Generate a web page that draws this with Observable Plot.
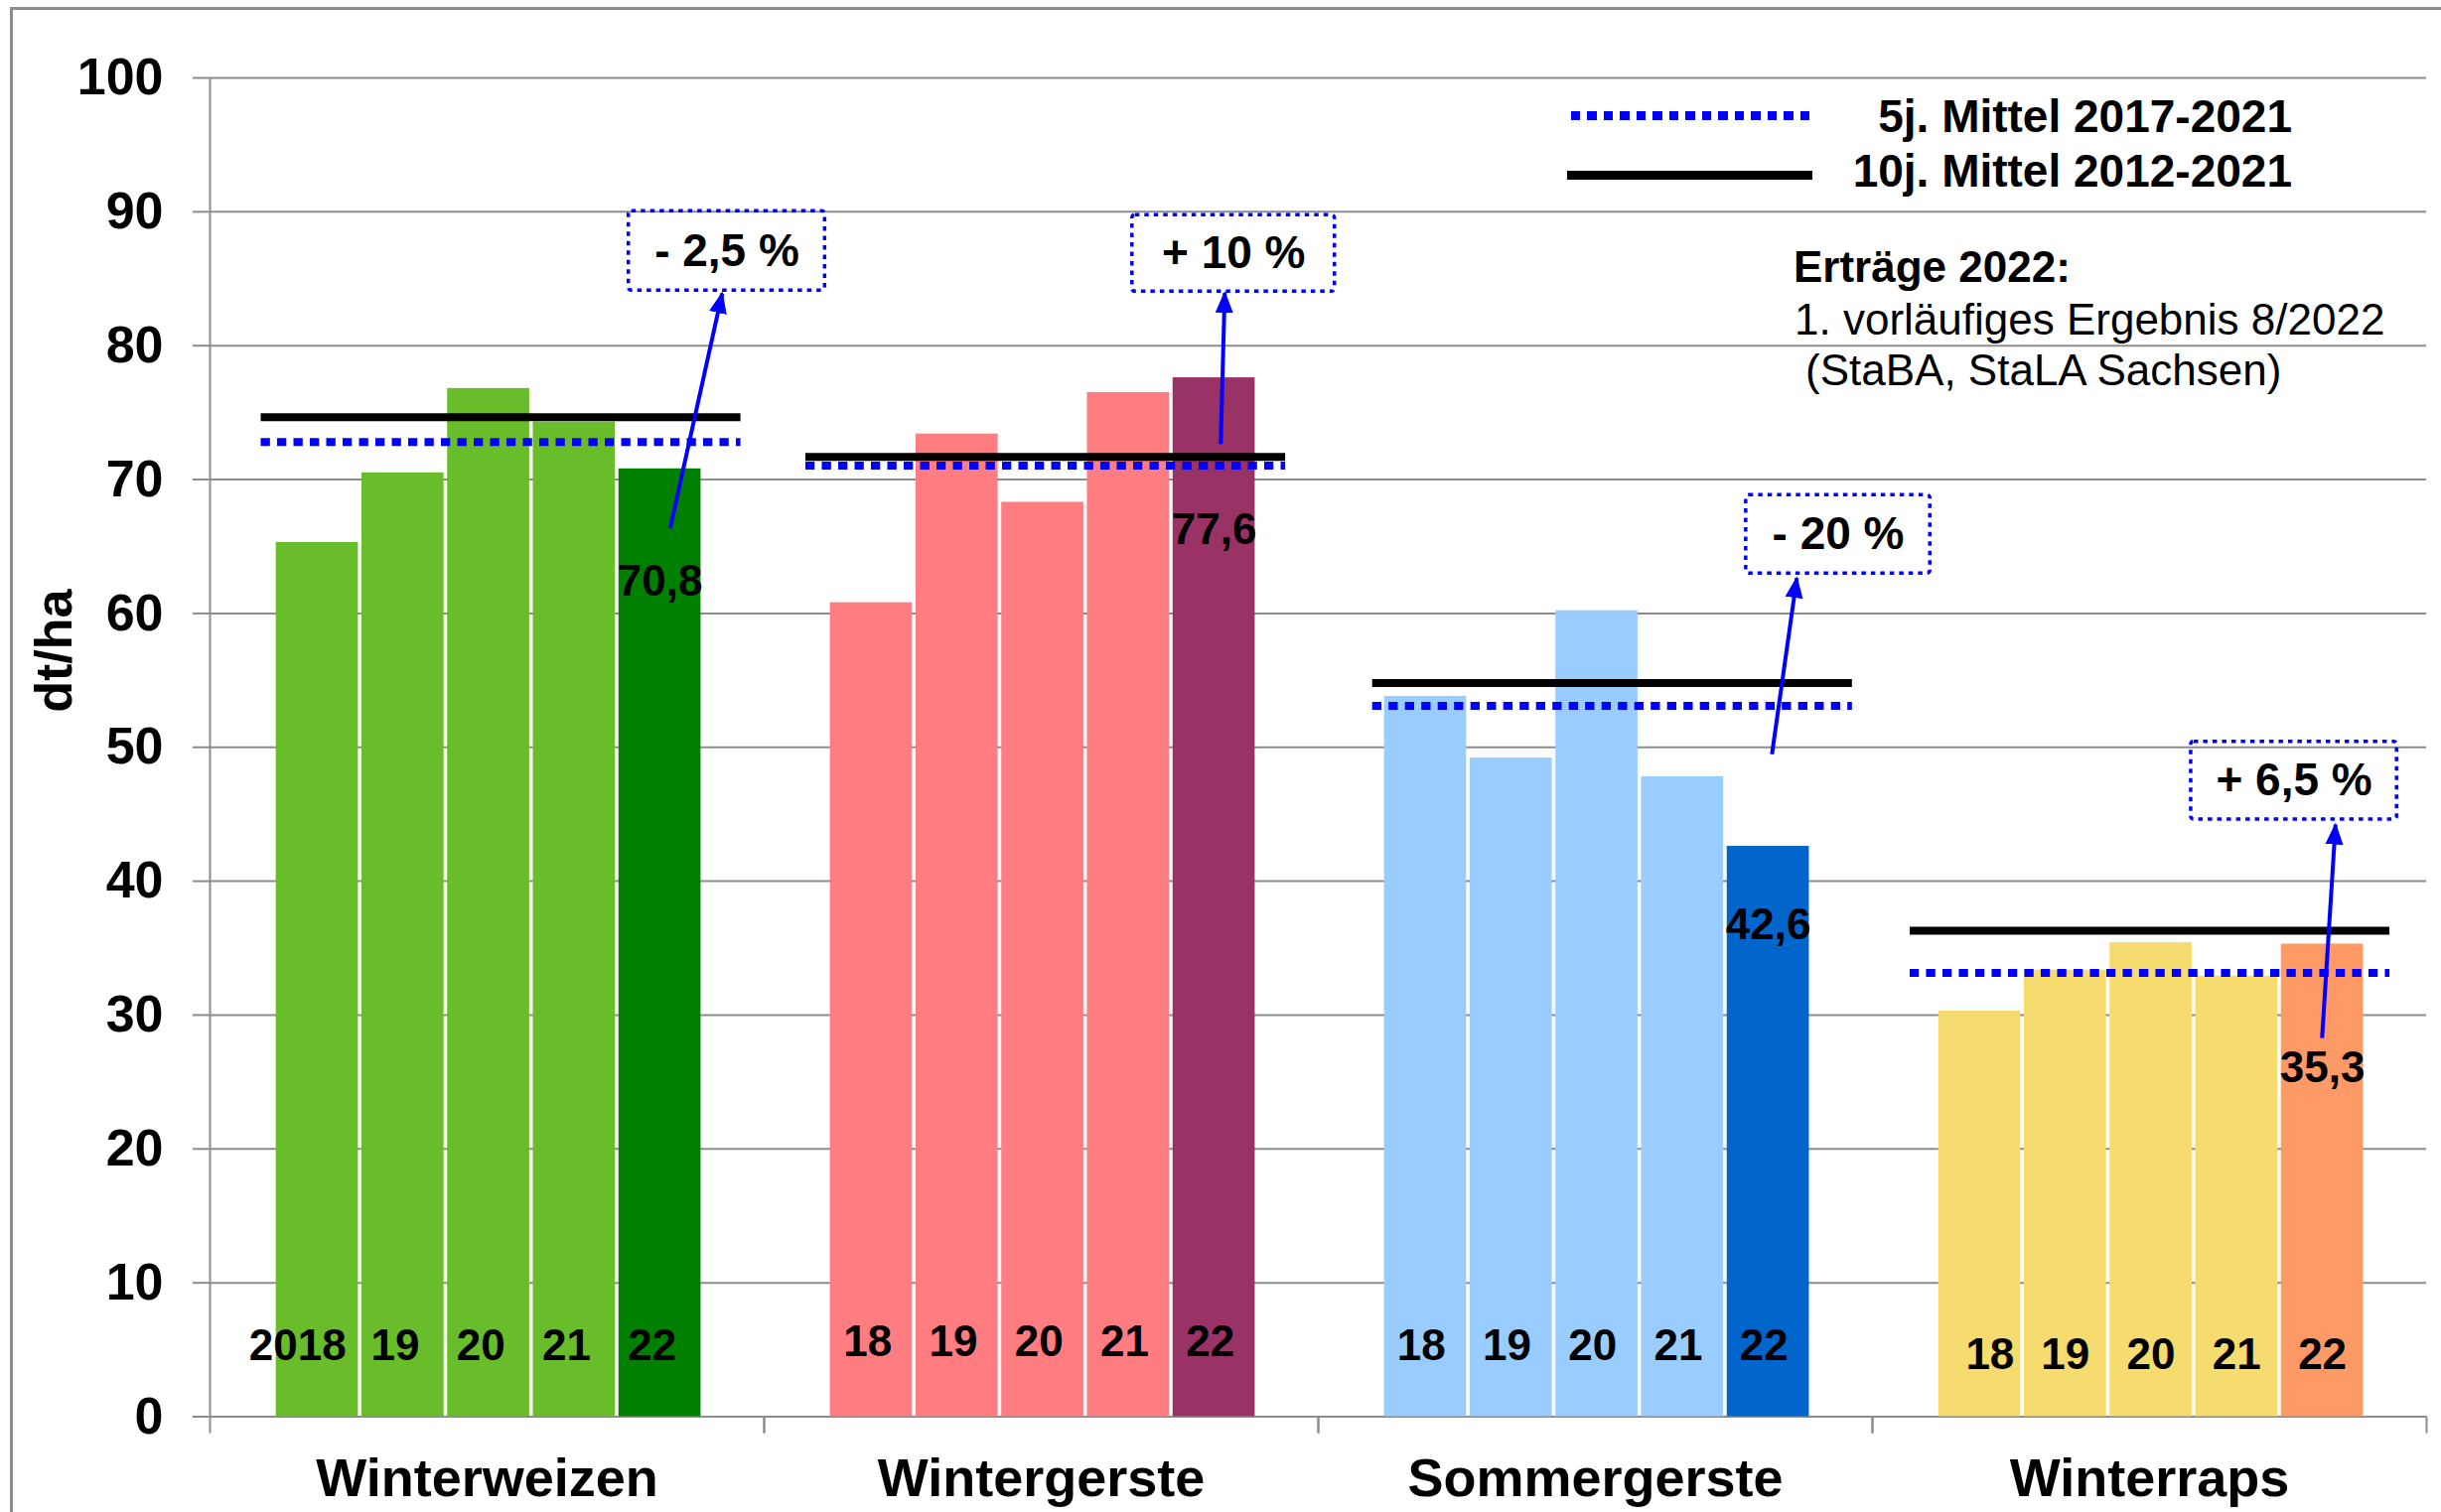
<!DOCTYPE html>
<html>
<head>
<meta charset="utf-8">
<script src="https://cdn.jsdelivr.net/npm/d3@7"></script>
<script src="https://cdn.jsdelivr.net/npm/@observablehq/plot@0.6"></script>
<style>
  html, body { margin: 0; padding: 0; background: #fff; }
  #wrap { position: relative; width: 2458px; height: 1523px; overflow: hidden; background: #fff;
          font-family: "Liberation Sans", Arial, sans-serif; color: #000; }
  #frame { position: absolute; left: 10px; top: 7px; width: 2600px; height: 1700px;
           border-left: 3px solid #8c8c8c; border-top: 3px solid #8c8c8c; pointer-events: none; }
  .ov { position: absolute; white-space: nowrap; }
</style>
</head>
<body>
<div id="wrap">
  <div id="chart"></div>
  <div id="frame"></div>
  <div id="legend"></div>
</div>
<script>
// ---------------- data ----------------
const categories = ["Winterweizen", "Wintergerste", "Sommergerste", "Winterraps"];
const years = [2018, 2019, 2020, 2021, 2022];
const winterweizen = [65.3, 70.5, 76.8, 74.3, 70.8];
const wintergerste = [60.8, 73.4, 68.3, 76.5, 77.6];
const sommergerste = [53.8, 49.2, 60.2, 47.8, 42.6];
const winterraps   = [30.3, 33.35, 35.4, 32.9, 35.3];
const mittel5  = [72.8, 71.05, 53.1, 33.15];   // 5j. Mittel 2017-2021
const mittel10 = [74.65, 71.7, 54.8, 36.3];    // 10j. Mittel 2012-2021
const changeLabels = ["- 2,5 %", "+ 10 %", "- 20 %", "+ 6,5 %"];
const legendLabels = ["5j. Mittel 2017-2021", "10j. Mittel 2012-2021"];
const noteLines = ["Erträge 2022:", "1. vorläufiges Ergebnis 8/2022", "(StaBA, StaLA Sachsen)"];
const yTicks = [0, 10, 20, 30, 40, 50, 60, 70, 80, 90, 100];

// ---------------- styles ----------------
const colorsPast = ["#6abd2a", "#ff7c80", "#99ccff", "#f6db6e"];
const colors2022 = ["#008000", "#993366", "#0066cc", "#ff9966"];
const GRID = "#8c8c8c";
const BLUE = "#0000ff";
const FONT = "'Liberation Sans', Arial, sans-serif";

// ---------------- annotation layout (data units inside each category) ----------------
const X_DOMAIN = [-0.752, 5.716];
const meanLineStart = [-0.155, -0.265, -0.118, -0.312];
const MEAN_LINE_LEN = 5.6;
const yearLabelY = [5.3, 5.54, 5.3, 4.58];
const yearLabelShift = [
  [-0.23, -0.09, -0.09, -0.09, -0.09],
  [-0.045, -0.045, -0.045, -0.045, -0.045],
  [-0.05, -0.05, -0.05, -0.05, -0.05],
  [0.12, 0, 0, 0, 0]
];
const valueLabelY = [62.4, 66.2, 36.75, 26.0];
const calloutBox = [
  {x1: 4.136, x2: 6.427, y1: 84.11, y2: 90.04},
  {x1: 3.546, x2: 5.910, y1: 84.03, y2: 89.74},
  {x1: 4.242, x2: 6.391, y1: 62.97, y2: 68.83},
  {x1: 2.968, x2: 5.371, y1: 44.60, y2: 50.41}
];
const calloutArrow = [
  {x1: 4.618, y1: 66.35, x2: 5.226, y2: 83.91},
  {x1: 4.577, y1: 72.65, x2: 4.624, y2: 83.94},
  {x1: 4.543, y1: 49.48, x2: 4.833, y2: 62.65},
  {x1: 4.496, y1: 28.29, x2: 4.653, y2: 44.23}
];

// ---------------- tables built from arrays ----------------
const series = [winterweizen, wintergerste, sommergerste, winterraps];
const bars = [];
categories.forEach((cat, ci) => {
  years.forEach((year, yi) => {
    bars.push({
      cat, ci, year, yi,
      value: series[ci][yi],
      color: yi === years.length - 1 ? colors2022[ci] : colorsPast[ci],
      label: (ci === 0 && yi === 0) ? String(year) : String(year).slice(2)
    });
  });
});
const latest = bars.filter(d => d.yi === years.length - 1);
const means = categories.map((cat, ci) => ({cat, ci, m5: mittel5[ci], m10: mittel10[ci]}));
const callouts = categories.map((cat, ci) => ({cat, ci, label: changeLabels[ci], ...calloutBox[ci]}));
const arrows = categories.map((cat, ci) => ({cat, ci, ...calloutArrow[ci]}));

function triangleMarker(color) {
  const ns = "http://www.w3.org/2000/svg";
  const m = document.createElementNS(ns, "marker");
  m.setAttribute("viewBox", "-11 -10 22 20");
  m.setAttribute("markerUnits", "userSpaceOnUse");
  m.setAttribute("markerWidth", "22");
  m.setAttribute("markerHeight", "20");
  m.setAttribute("refX", "9");
  m.setAttribute("refY", "0");
  m.setAttribute("orient", "auto");
  const p = document.createElementNS(ns, "path");
  p.setAttribute("d", "M-11,-9L11,0L-11,9Z");
  p.setAttribute("fill", color);
  p.setAttribute("stroke", "none");
  m.appendChild(p);
  return m;
}

const chart = Plot.plot({
  width: 2458,
  height: 1523,
  marginLeft: 210,
  marginRight: 15,
  marginTop: 78,
  marginBottom: 96.5,
  style: {fontFamily: FONT, fontSize: "44px", color: "#000", background: "#fff", overflow: "visible"},
  fx: {domain: categories, padding: 0, label: null},
  x: {domain: X_DOMAIN, label: null},
  y: {domain: [0, 100], label: null},
  color: {type: "identity"},
  marks: [
    Plot.gridY(yTicks, {stroke: GRID, strokeOpacity: 1, strokeWidth: 2}),
    Plot.rectY(bars, {fx: "cat", x: "yi", interval: 1, y1: 0, y2: "value", fill: "color", insetLeft: 1.8, insetRight: 1.8}),
    Plot.ruleX([{cat: categories[0]}], {fx: "cat", x: X_DOMAIN[0], stroke: GRID, strokeWidth: 2}),
    Plot.axisX({ticks: X_DOMAIN, tickSize: 17, tickFormat: () => "", stroke: GRID, strokeWidth: 2, strokeOpacity: 1, label: null}),
    Plot.axisY({ticks: yTicks, tickSize: 17, tickPadding: 30, fontSize: 52, fontWeight: "bold", stroke: GRID, strokeWidth: 2, strokeOpacity: 1, fill: "#000", label: null}),
    Plot.axisFx({anchor: "bottom", tickSize: 0, tickPadding: 42, fontSize: 54, fontWeight: "bold", fill: "#000", label: null}),
    Plot.text(bars, {fx: "cat", x: d => d.yi + 0.5 + yearLabelShift[d.ci][d.yi], y: d => yearLabelY[d.ci], text: "label", fontSize: 44, fontWeight: "bold", fill: "#000"}),
    Plot.ruleY(means, {fx: "cat", y: "m10", x1: d => meanLineStart[d.ci], x2: d => meanLineStart[d.ci] + MEAN_LINE_LEN, stroke: "#000", strokeWidth: 8}),
    Plot.ruleY(means, {fx: "cat", y: "m5", x1: d => meanLineStart[d.ci], x2: d => meanLineStart[d.ci] + MEAN_LINE_LEN, stroke: BLUE, strokeWidth: 8, strokeDasharray: "9.3,7.2"}),
    Plot.text(latest, {fx: "cat", x: d => d.yi + 0.5, y: d => valueLabelY[d.ci], text: d => d.value.toFixed(1).replace(".", ","), fontSize: 44, fontWeight: "bold", fill: "#000"}),
    Plot.link(arrows, {fx: "cat", x1: "x1", y1: "y1", x2: "x2", y2: "y2", stroke: BLUE, strokeWidth: 4, markerEnd: triangleMarker}),
    Plot.rect(callouts, {fx: "cat", x1: "x1", x2: "x2", y1: "y1", y2: "y2", fill: "none", stroke: BLUE, strokeWidth: 3.5, strokeDasharray: "4.5,5", rx: 3}),
    Plot.text(callouts, {fx: "cat", x: d => (d.x1 + d.x2) / 2, y: d => (d.y1 + d.y2) / 2, text: "label", fontSize: 46, fontWeight: "bold", fill: "#000"}),
    Plot.text([{cat: categories[0], t: "dt/ha"}], {fx: "cat", x: X_DOMAIN[0], y: 57.2, dx: -156, rotate: -90, text: "t", fontSize: 52, fontWeight: "bold", fill: "#000"})
  ]
});
document.getElementById("chart").appendChild(chart);

// ---------------- legend + note (HTML overlay) ----------------
const leg = document.getElementById("legend");
function addDiv(txt, css) {
  const d = document.createElement("div");
  d.className = "ov";
  d.textContent = txt;
  Object.assign(d.style, css);
  leg.appendChild(d);
  return d;
}
addDiv("", {left: "1582px", top: "111.5px", width: "240px", height: "9px",
  background: `repeating-linear-gradient(to right, ${BLUE} 0px, ${BLUE} 9.3px, transparent 9.3px, transparent 16.5px)`});
addDiv("", {left: "1578px", top: "171.5px", width: "247px", height: "9px", background: "#000"});
addDiv(legendLabels[0], {right: "150px", top: "93.7px", fontSize: "46px", lineHeight: "46px", fontWeight: "bold"});
addDiv(legendLabels[1], {right: "150px", top: "148.7px", fontSize: "46px", lineHeight: "46px", fontWeight: "bold"});
addDiv(noteLines[0], {left: "1806px", top: "247px", fontSize: "44px", lineHeight: "44px", fontWeight: "bold"});
addDiv(noteLines[1], {left: "1807px", top: "299.7px", fontSize: "44px", lineHeight: "44px"});
addDiv(noteLines[2], {left: "1818px", top: "351.3px", fontSize: "44px", lineHeight: "44px"});
</script>
</body>
</html>
